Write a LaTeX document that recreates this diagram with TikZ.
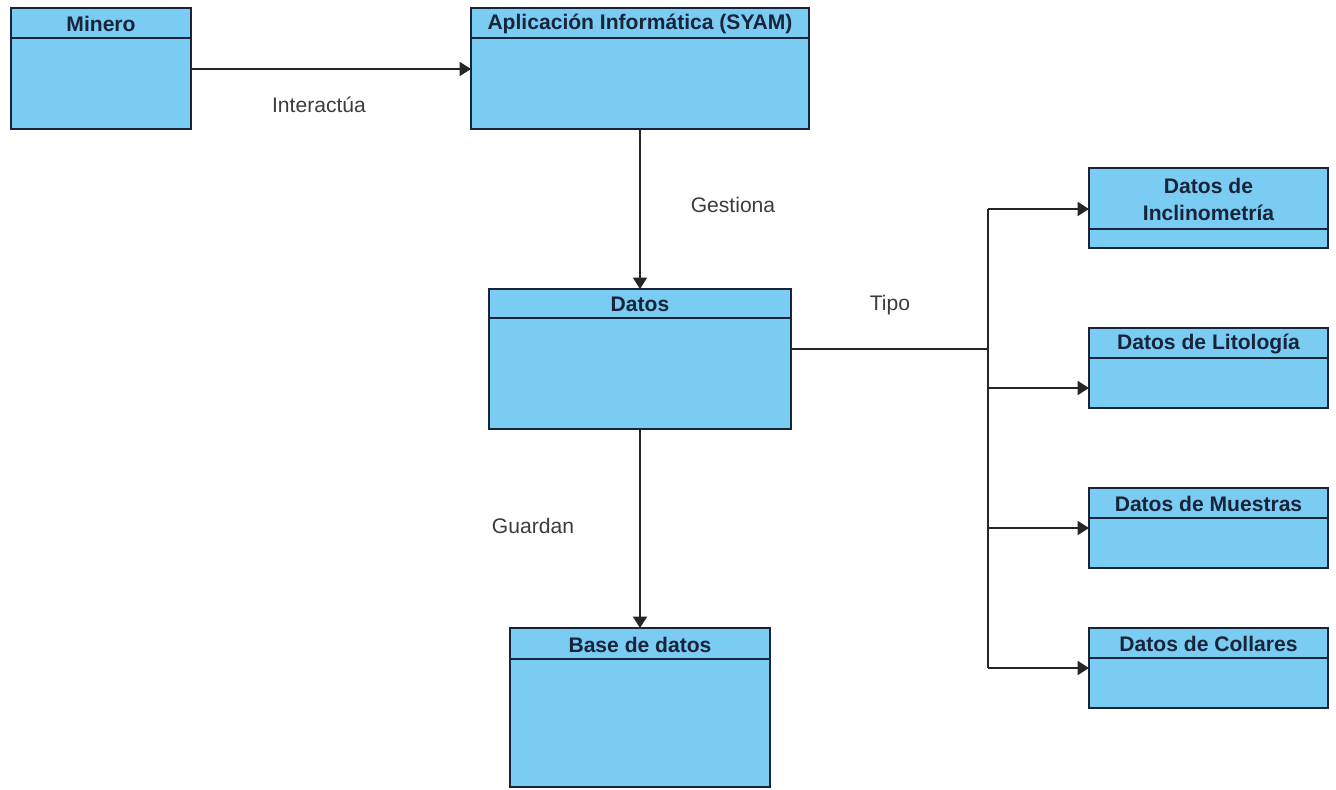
\documentclass[tikz,border=0pt]{standalone}
\usepackage{fontspec}
\setmainfont{Liberation Sans}
\usetikzlibrary{arrows.meta}
\definecolor{boxfill}{RGB}{122,204,242}
\definecolor{boxdraw}{RGB}{24,36,58}
\definecolor{labeltext}{RGB}{60,60,60}
\tikzset{
  x=0.02cm, y=-0.02cm,
  box/.style={draw=boxdraw, fill=boxfill, line width=1.1pt, inner sep=0pt, outer sep=0pt},
  boxline/.style={draw=boxdraw, line width=1.1pt},
  title/.style={font=\fontsize{12}{15}\selectfont\bfseries, text=boxdraw, align=center, inner sep=0pt},
  conn/.style={draw=black!85, line width=1pt},
  arr/.style={conn, -{Triangle[length=6.5pt,width=8pt]}},
  lbl/.style={font=\fontsize{12}{14}\selectfont, text=labeltext, inner sep=0pt},
}
% class-style box: name, x1, y1, x2, y2, header line y, title
\newcommand\umlbox[7]{%
  \node[box, minimum width={(#4-#2)*0.02cm}, minimum height={(#5-#3)*0.02cm}]
    (#1) at ({(#2+#4)/2},{(#3+#5)/2}) {};
  \draw[boxline] (#2,#6) -- (#4,#6);
  \node[title] (#1-t) at ({(#2+#4)/2},{(#3+#6)/2+1}) {#7};
}
\begin{document}
\begin{tikzpicture}
\useasboundingbox (0,0) rectangle (1336,789);

\umlbox{minero}{11}{8}{191}{129}{38}{Minero}
\umlbox{app}{471}{8}{809}{129}{38}{Aplicación Informática (SYAM)}
\umlbox{datos}{489}{289}{791}{429}{318}{Datos}
\umlbox{bd}{510}{628}{770}{787}{659}{Base de datos}
\umlbox{incl}{1089}{168}{1328}{248}{229}{Datos de\\Inclinometría}
\umlbox{lito}{1089}{328}{1328}{408}{358}{Datos de Litología}
\umlbox{mues}{1089}{488}{1328}{568}{518}{Datos de Muestras}
\umlbox{coll}{1089}{628}{1328}{708}{658}{Datos de Collares}

% junction points of the type tree
\coordinate (jd) at (988,349);
\coordinate (j1) at (988,209);
\coordinate (j2) at (988,388);
\coordinate (j3) at (988,528);
\coordinate (j4) at (988,668);

\draw[arr] (minero.east |- 0,69) -- (app.west |- 0,69);
\draw[arr] (app.south) -- (app.south |- datos.north);
\draw[arr] (datos.south) -- (datos.south |- bd.north);

\draw[conn] (datos.east |- jd) -- (jd);
\draw[conn] (j1) -- (j4);
\draw[arr] (j1) -- (incl.west |- j1);
\draw[arr] (j2) -- (lito.west |- j2);
\draw[arr] (j3) -- (mues.west |- j3);
\draw[arr] (j4) -- (coll.west |- j4);

\node[lbl] (l1) at (319,105) {Interactúa};
\node[lbl] (l2) at (733,205) {Gestiona};
\node[lbl] (l3) at (890,305) {Tipo};
\node[lbl] (l4) at (533,526) {Guardan};
\end{tikzpicture}
\end{document}
